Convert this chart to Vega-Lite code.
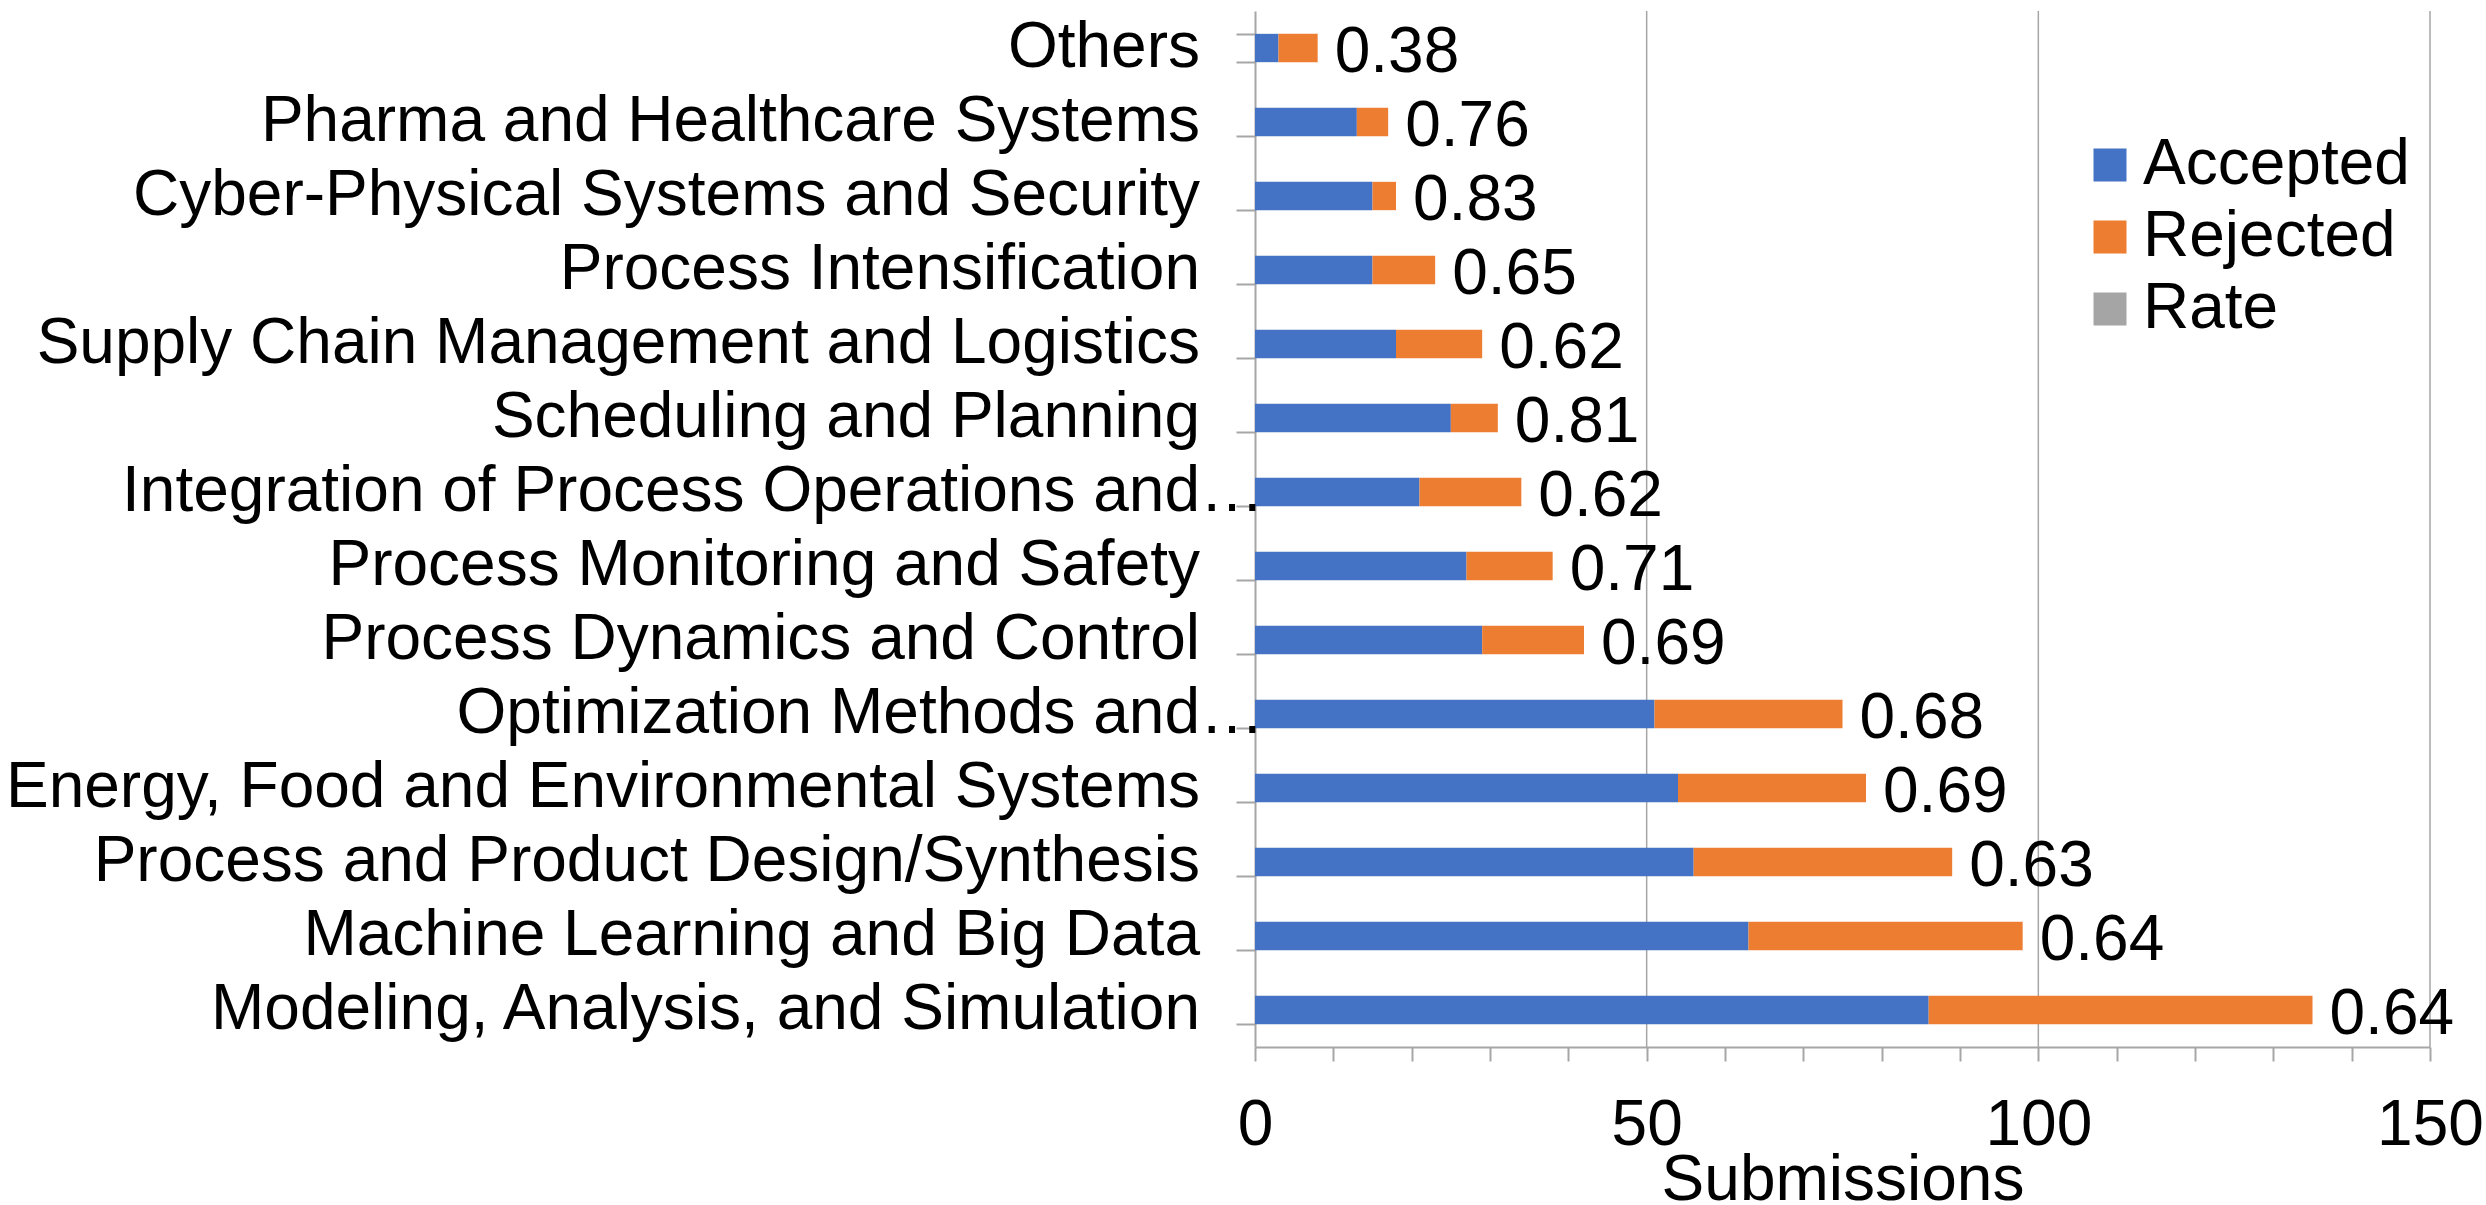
{
  "$schema": "https://vega.github.io/schema/vega-lite/v6.json",
  "width": 1175,
  "height": 1036,
  "autosize": {"type": "none"},
  "padding": {"left": 1255, "top": 11, "right": 56, "bottom": 158},
  "background": "white",
  "config": {
    "view": {"stroke": null},
    "font": "Liberation Sans"
  },
  "datasets": {
    "bars": [
      {"category": "Others", "status": "Accepted", "count": 3},
      {"category": "Others", "status": "Rejected", "count": 5},
      {"category": "Pharma and Healthcare Systems", "status": "Accepted", "count": 13},
      {"category": "Pharma and Healthcare Systems", "status": "Rejected", "count": 4},
      {"category": "Cyber-Physical Systems and Security", "status": "Accepted", "count": 15},
      {"category": "Cyber-Physical Systems and Security", "status": "Rejected", "count": 3},
      {"category": "Process Intensification", "status": "Accepted", "count": 15},
      {"category": "Process Intensification", "status": "Rejected", "count": 8},
      {"category": "Supply Chain Management and Logistics", "status": "Accepted", "count": 18},
      {"category": "Supply Chain Management and Logistics", "status": "Rejected", "count": 11},
      {"category": "Scheduling and Planning", "status": "Accepted", "count": 25},
      {"category": "Scheduling and Planning", "status": "Rejected", "count": 6},
      {"category": "Integration of Process Operations and…", "status": "Accepted", "count": 21},
      {"category": "Integration of Process Operations and…", "status": "Rejected", "count": 13},
      {"category": "Process Monitoring and Safety", "status": "Accepted", "count": 27},
      {"category": "Process Monitoring and Safety", "status": "Rejected", "count": 11},
      {"category": "Process Dynamics and Control", "status": "Accepted", "count": 29},
      {"category": "Process Dynamics and Control", "status": "Rejected", "count": 13},
      {"category": "Optimization Methods and…", "status": "Accepted", "count": 51},
      {"category": "Optimization Methods and…", "status": "Rejected", "count": 24},
      {"category": "Energy, Food and Environmental Systems", "status": "Accepted", "count": 54},
      {"category": "Energy, Food and Environmental Systems", "status": "Rejected", "count": 24},
      {"category": "Process and Product Design/Synthesis", "status": "Accepted", "count": 56},
      {"category": "Process and Product Design/Synthesis", "status": "Rejected", "count": 33},
      {"category": "Machine Learning and Big Data", "status": "Accepted", "count": 63},
      {"category": "Machine Learning and Big Data", "status": "Rejected", "count": 35},
      {"category": "Modeling, Analysis, and Simulation", "status": "Accepted", "count": 86},
      {"category": "Modeling, Analysis, and Simulation", "status": "Rejected", "count": 49}
    ],
    "rates": [
      {"category": "Others", "total": 8, "rate": 0.38},
      {"category": "Pharma and Healthcare Systems", "total": 17, "rate": 0.76},
      {"category": "Cyber-Physical Systems and Security", "total": 18, "rate": 0.83},
      {"category": "Process Intensification", "total": 23, "rate": 0.65},
      {"category": "Supply Chain Management and Logistics", "total": 29, "rate": 0.62},
      {"category": "Scheduling and Planning", "total": 31, "rate": 0.81},
      {"category": "Integration of Process Operations and…", "total": 34, "rate": 0.62},
      {"category": "Process Monitoring and Safety", "total": 38, "rate": 0.71},
      {"category": "Process Dynamics and Control", "total": 42, "rate": 0.69},
      {"category": "Optimization Methods and…", "total": 75, "rate": 0.68},
      {"category": "Energy, Food and Environmental Systems", "total": 78, "rate": 0.69},
      {"category": "Process and Product Design/Synthesis", "total": 89, "rate": 0.63},
      {"category": "Machine Learning and Big Data", "total": 98, "rate": 0.64},
      {"category": "Modeling, Analysis, and Simulation", "total": 135, "rate": 0.64}
    ],
    "gridlines": [
      {"value": 50},
      {"value": 100},
      {"value": 150}
    ]
  },
  "layer": [
    {
      "data": {"name": "gridlines"},
      "mark": {"type": "rule", "color": "#a6a6a6", "strokeWidth": 1.5},
      "encoding": {
        "x": {"field": "value", "type": "quantitative"}
      }
    },
    {
      "data": {"name": "bars"},
      "mark": {"type": "bar"},
      "encoding": {
        "y": {
          "field": "category",
          "type": "nominal",
          "sort": ["Others", "Pharma and Healthcare Systems", "Cyber-Physical Systems and Security", "Process Intensification", "Supply Chain Management and Logistics", "Scheduling and Planning", "Integration of Process Operations and…", "Process Monitoring and Safety", "Process Dynamics and Control", "Optimization Methods and…", "Energy, Food and Environmental Systems", "Process and Product Design/Synthesis", "Machine Learning and Big Data", "Modeling, Analysis, and Simulation"],
          "scale": {"paddingInner": 0.617, "paddingOuter": 0.3085},
          "axis": {
            "title": null,
            "orient": "left",
            "tickBand": "extent",
            "tickSize": 19,
            "tickWidth": 2,
            "tickColor": "#a6a6a6",
            "domainColor": "#a6a6a6",
            "domainWidth": 2,
            "labels": false,
            "grid": false
          }
        },
        "x": {
          "field": "count",
          "type": "quantitative",
          "aggregate": "sum",
          "stack": "zero",
          "scale": {"domain": [0, 150], "nice": false},
          "axis": {
            "title": "Submissions",
            "titleFont": "Liberation Sans",
            "titleFontSize": 64,
            "titleFontWeight": "normal",
            "titleColor": "black",
            "titlePadding": -9,
            "values": [0, 10, 20, 30, 40, 50, 60, 70, 80, 90, 100, 110, 120, 130, 140, 150],
            "labelExpr": "datum.value % 50 === 0 ? datum.label : ''",
            "labelFont": "Liberation Sans",
            "labelFontSize": 64,
            "labelColor": "black",
            "labelFlush": false,
            "labelOverlap": false,
            "labelPadding": 32,
            "tickSize": 14,
            "tickWidth": 2,
            "tickColor": "#a6a6a6",
            "domainColor": "#a6a6a6",
            "domainWidth": 2,
            "grid": false
          }
        },
        "color": {
          "field": "status",
          "type": "nominal",
          "scale": {"domain": ["Accepted", "Rejected", "Rate"], "range": ["#4472C4", "#ED7D31", "#A5A5A5"]},
          "legend": {
            "title": null,
            "orient": "none",
            "legendX": 823,
            "legendY": 122,
            "padding": 0,
            "symbolType": "square",
            "symbolSize": 1089,
            "symbolStrokeWidth": 0,
            "labelFontSize": 64,
            "labelFont": "Liberation Sans",
            "labelColor": "black",
            "labelLimit": 600,
            "labelOffset": 1,
            "rowPadding": 8
          }
        }
      }
    },
    {
      "data": {"name": "rates"},
      "mark": {"type": "text", "align": "left", "baseline": "middle", "dx": 17, "dy": 5, "fontSize": 64, "font": "Liberation Sans", "color": "black"},
      "encoding": {
        "y": {
          "field": "category",
          "type": "nominal",
          "sort": ["Others", "Pharma and Healthcare Systems", "Cyber-Physical Systems and Security", "Process Intensification", "Supply Chain Management and Logistics", "Scheduling and Planning", "Integration of Process Operations and…", "Process Monitoring and Safety", "Process Dynamics and Control", "Optimization Methods and…", "Energy, Food and Environmental Systems", "Process and Product Design/Synthesis", "Machine Learning and Big Data", "Modeling, Analysis, and Simulation"]
        },
        "x": {"field": "total", "type": "quantitative"},
        "text": {"field": "rate", "type": "quantitative", "format": ".2f"}
      }
    },
    {
      "data": {"name": "rates"},
      "transform": [{"filter": "indexof(datum.category, '…') < 0"}],
      "mark": {"type": "text", "align": "right", "baseline": "middle", "dx": -55, "fontSize": 64, "font": "Liberation Sans", "color": "black"},
      "encoding": {
        "y": {
          "field": "category",
          "type": "nominal",
          "sort": ["Others", "Pharma and Healthcare Systems", "Cyber-Physical Systems and Security", "Process Intensification", "Supply Chain Management and Logistics", "Scheduling and Planning", "Integration of Process Operations and…", "Process Monitoring and Safety", "Process Dynamics and Control", "Optimization Methods and…", "Energy, Food and Environmental Systems", "Process and Product Design/Synthesis", "Machine Learning and Big Data", "Modeling, Analysis, and Simulation"]
        },
        "x": {"datum": 0},
        "text": {"field": "category", "type": "nominal"}
      }
    },
    {
      "data": {"name": "rates"},
      "transform": [{"filter": "indexof(datum.category, '…') >= 0"}],
      "mark": {"type": "text", "align": "right", "baseline": "middle", "dx": 9, "fontSize": 64, "font": "Liberation Sans", "color": "black"},
      "encoding": {
        "y": {
          "field": "category",
          "type": "nominal",
          "sort": ["Others", "Pharma and Healthcare Systems", "Cyber-Physical Systems and Security", "Process Intensification", "Supply Chain Management and Logistics", "Scheduling and Planning", "Integration of Process Operations and…", "Process Monitoring and Safety", "Process Dynamics and Control", "Optimization Methods and…", "Energy, Food and Environmental Systems", "Process and Product Design/Synthesis", "Machine Learning and Big Data", "Modeling, Analysis, and Simulation"]
        },
        "x": {"datum": 0},
        "text": {"field": "category", "type": "nominal"}
      }
    }
  ]
}
